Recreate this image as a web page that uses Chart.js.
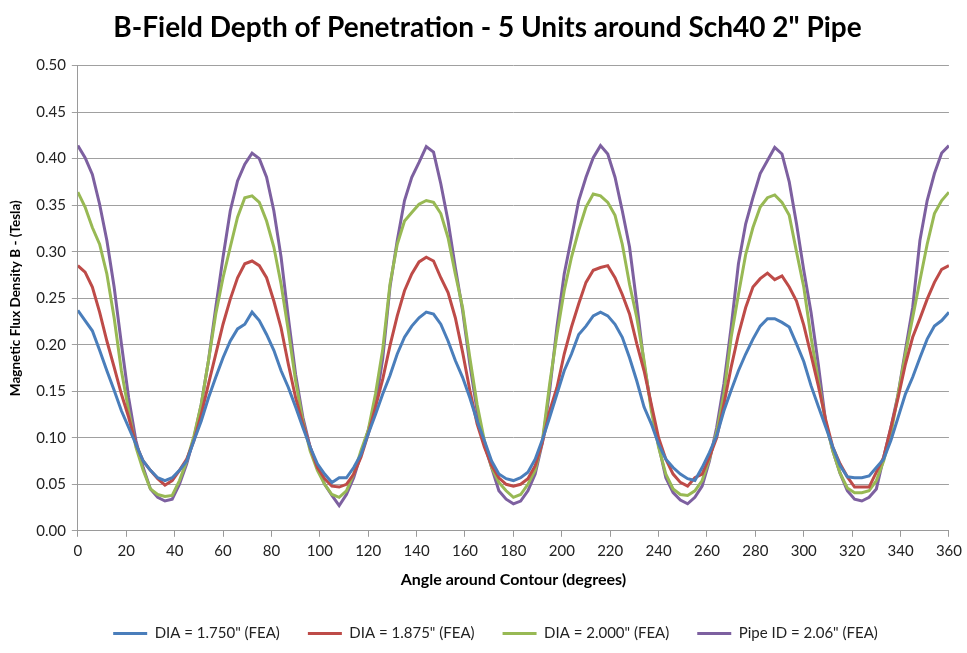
<!DOCTYPE html>
<html>
<head>
<meta charset="utf-8">
<script src="https://cdn.jsdelivr.net/npm/chart.js@4/dist/chart.umd.min.js"></script>
<style>
html,body{margin:0;padding:0;background:#fff;}
#wrap{width:967px;height:653px;position:relative;}
</style>
</head>
<body>
<div id="wrap"><canvas id="c" width="967" height="653"></canvas></div>
<script>
// Angle around contour (degrees), 3-degree steps
const angles = [];
for (let a = 0; a <= 360; a += 3) angles.push(a);

const seriesNames = ['DIA = 1.750" (FEA)', 'DIA = 1.875" (FEA)', 'DIA = 2.000" (FEA)', 'Pipe ID = 2.06" (FEA)'];

const dia1750 = [
.237,.226,.215,.194,.172,.151,.129,.111,.093,.075,.065,.057,.054,.057,.065,.075,.097,.118,.143,.165,.186,.204,.217,.222,.235,
.226,.211,.194,.172,.154,.133,.111,.090,.072,.061,.052,.057,.057,.068,.082,.104,.125,.147,.167,.190,.208,.220,.229,.235,
.233,.222,.204,.183,.165,.143,.118,.097,.075,.061,.056,.054,.057,.063,.077,.098,.122,.147,.172,.190,.211,.220,.231,.235,
.231,.222,.208,.186,.161,.133,.115,.093,.077,.068,.061,.056,.054,.068,.084,.102,.129,.151,.172,.190,.206,.220,.228,.228,
.224,.219,.201,.182,.156,.134,.112,.090,.070,.058,.057,.057,.059,.068,.077,.097,.122,.147,.165,.186,.206,.220,.226,.235
];
const dia1875 = [
.285,.278,.262,.235,.204,.176,.147,.122,.093,.075,.065,.056,.049,.054,.065,.077,.097,.125,.158,.190,.222,.249,.272,.287,.290,
.285,.272,.247,.218,.179,.143,.115,.090,.068,.056,.048,.047,.050,.061,.079,.104,.133,.163,.199,.231,.258,.276,.289,.294,
.290,.272,.256,.229,.192,.151,.115,.090,.070,.057,.050,.048,.050,.056,.070,.095,.129,.154,.190,.219,.244,.267,.280,.283,
.285,.272,.254,.233,.201,.172,.136,.100,.077,.061,.052,.048,.057,.061,.079,.100,.136,.176,.211,.240,.262,.271,.277,.270,
.274,.262,.247,.221,.189,.156,.120,.090,.072,.058,.047,.047,.047,.063,.079,.111,.143,.179,.208,.228,.249,.267,.281,.285
];
const dia2000 = [
.364,.348,.326,.308,.276,.229,.172,.129,.090,.065,.045,.039,.037,.038,.054,.075,.102,.136,.183,.233,.272,.305,.337,.358,.360,
.353,.333,.305,.265,.215,.161,.118,.086,.065,.050,.039,.036,.043,.061,.086,.108,.147,.195,.265,.308,.333,.342,.351,.355,
.353,.341,.315,.276,.240,.186,.136,.097,.068,.052,.043,.036,.039,.050,.065,.097,.158,.211,.258,.294,.323,.348,.362,.360,
.353,.339,.308,.265,.229,.183,.129,.090,.061,.045,.039,.038,.043,.054,.077,.106,.147,.208,.254,.297,.326,.348,.358,.361,
.353,.339,.300,.262,.208,.162,.117,.086,.062,.046,.041,.041,.043,.054,.075,.104,.147,.190,.229,.269,.308,.341,.355,.364
];
const pipe206 = [
.414,.401,.383,.351,.312,.262,.201,.143,.097,.068,.045,.036,.032,.034,.050,.072,.100,.136,.183,.240,.294,.344,.376,.394,.406,
.400,.380,.344,.294,.229,.168,.122,.090,.068,.050,.038,.027,.039,.057,.082,.108,.135,.185,.262,.312,.355,.380,.396,.413,
.407,.373,.333,.283,.237,.179,.129,.093,.068,.043,.034,.029,.032,.043,.061,.095,.151,.219,.276,.315,.355,.380,.401,.414,
.405,.380,.344,.305,.244,.179,.133,.092,.057,.041,.033,.029,.036,.048,.075,.111,.158,.219,.287,.330,.358,.384,.398,.412,
.405,.375,.330,.280,.235,.179,.118,.086,.062,.043,.034,.032,.036,.045,.079,.111,.147,.194,.240,.312,.355,.384,.406,.414
];

const yTicks = [0,0.05,0.10,0.15,0.20,0.25,0.30,0.35,0.40,0.45,0.50];
const xTicks = [0,20,40,60,80,100,120,140,160,180,200,220,240,260,280,300,320,340,360];

const colors = ['#4a7ebb','#be4b48','#98b954','#7d60a0'];
const allSeries = [dia1750, dia1875, dia2000, pipe206];

const FONT = 'Lato, "Open Sans", sans-serif';

const bgPlugin = {
  id: 'bg',
  beforeDraw(chart){
    const ctx = chart.ctx;
    ctx.save();
    ctx.fillStyle = '#fff';
    ctx.fillRect(0,0,chart.width,chart.height);
    ctx.restore();
  }
};

// nudge the legend a little to the right, as in the original
const legendShift = {
  id: 'legendShift',
  afterLayout(chart){
    if (chart.legend) { chart.legend.left += 8; chart.legend.right += 8; }
  }
};

new Chart(document.getElementById('c'), {
  type: 'line',
  data: {
    datasets: allSeries.map((s, i) => ({
      label: seriesNames[i],
      data: angles.map((a, j) => ({x: a, y: s[j]})),
      borderColor: colors[i],
      backgroundColor: colors[i],
      borderWidth: 3,
      pointRadius: 0,
      tension: 0,
      fill: false
    }))
  },
  options: {
    responsive: false,
    animation: false,
    layout: { padding: { left: 8, right: 0, top: 4, bottom: 2 } },
    plugins: {
      title: {
        display: true,
        text: 'B-Field Depth of Penetration - 5 Units around Sch40 2" Pipe',
        color: '#000',
        font: { family: FONT, size: 28, weight: 'bold' },
        padding: { top: 7, bottom: 21 }
      },
      legend: {
        position: 'bottom',
        labels: {
          usePointStyle: true,
          pointStyle: 'line',
          pointStyleWidth: 34,
          color: '#222',
          font: { family: FONT, size: 15 },
          padding: 28
        }
      },
      tooltip: { enabled: false }
    },
    scales: {
      x: {
        type: 'linear',
        min: 0, max: 360,
        afterBuildTicks(axis){ axis.ticks = xTicks.map(v => ({value: v})); },
        grid: { drawOnChartArea: false, drawTicks: true, tickLength: 6, color: '#9a9a9a' },
        border: { color: '#9a9a9a' },
        ticks: { color: '#222', font: { family: FONT, size: 15 }, padding: 5, maxRotation: 0 },
        title: {
          display: true,
          text: 'Angle around Contour (degrees)',
          color: '#000',
          font: { family: FONT, size: 16, weight: 'bold' },
          padding: { top: 5, bottom: 9 }
        }
      },
      y: {
        min: 0, max: 0.5,
        afterBuildTicks(axis){ axis.ticks = yTicks.map(v => ({value: v})); },
        grid: { color: '#a0a0a0', tickLength: 6 },
        border: { color: '#9a9a9a' },
        ticks: { color: '#222', font: { family: FONT, size: 15 }, padding: 6, callback: v => v.toFixed(2) },
        title: {
          display: true,
          text: 'Magnetic Flux Density B - (Tesla)',
          color: '#000',
          font: { family: FONT, size: 13.5, weight: 'bold' },
          padding: { top: 0, bottom: 6 }
        }
      }
    }
  },
  plugins: [bgPlugin, legendShift]
});
</script>
</body>
</html>
